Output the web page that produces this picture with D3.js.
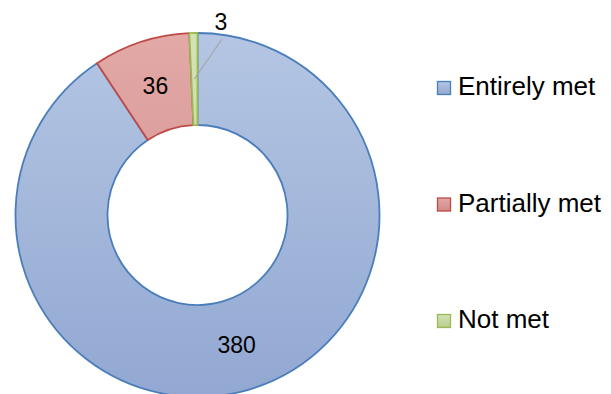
<!DOCTYPE html>
<html><head><meta charset="utf-8">
<script src="https://cdn.jsdelivr.net/npm/d3@7"></script>
<style>body{margin:0;background:#fff;} svg{display:block;font-family:Arial,"Liberation Sans",sans-serif;}</style>
</head><body>
<svg id="c" width="611" height="394"></svg>
<script>
const categories = ["Entirely met", "Partially met", "Not met"];
const values = [380, 36, 3];
const fillTop = ["#b4c6e3", "#e2a9a7", "#d4e3b6"];
const fillBottom = ["#92a8d2", "#d08987", "#b8cd8c"];
const strokes = ["#4a7ebb", "#be4b48", "#98b954"];

const svg = d3.select("#c");
const cx = 197.5, cy = 215, R = 182, r = 90;
const defs = svg.append("defs");
categories.forEach((c, i) => {
  const g = defs.append("linearGradient").attr("id", "g" + i)
    .attr("gradientUnits", "userSpaceOnUse")
    .attr("x1", 0).attr("y1", -R).attr("x2", 0).attr("y2", R);
  g.append("stop").attr("offset", "0%").attr("stop-color", fillTop[i]);
  g.append("stop").attr("offset", "100%").attr("stop-color", fillBottom[i]);
  const lg = defs.append("linearGradient").attr("id", "lg" + i).attr("x1", 0).attr("y1", 0).attr("x2", 0).attr("y2", 1);
  lg.append("stop").attr("offset", "0%").attr("stop-color", fillTop[i]);
  lg.append("stop").attr("offset", "100%").attr("stop-color", fillBottom[i]);
});

const pie = d3.pie().sort(null).value(d => d)(values);
const arc = d3.arc().innerRadius(r).outerRadius(R);
const g = svg.append("g").attr("transform", `translate(${cx},${cy})`);
g.selectAll("path").data(pie).join("path")
  .attr("d", arc)
  .attr("fill", (d, i) => `url(#g${i})`)
  .attr("stroke", (d, i) => strokes[i])
  .attr("stroke-width", 1.8)
  .attr("stroke-linejoin", "round");

const fs = 23;
pie.forEach((d, i) => {
  const [x, y] = arc.centroid(d);
  if (i === 2) {
    const lx = 222 - cx, ly = 39 - cy;
    g.append("line").attr("x1", x).attr("y1", y).attr("x2", lx).attr("y2", ly)
      .attr("stroke", "#a6a6a6").attr("stroke-width", 1.2);
    g.append("text").attr("x", lx - 1).attr("y", 30 - cy)
      .attr("text-anchor", "middle").attr("font-size", fs).attr("fill", "#000")
      .text(values[i]);
  } else {
    g.append("text").attr("x", x).attr("y", y).attr("dy", "0.35em")
      .attr("text-anchor", "middle").attr("font-size", fs).attr("fill", "#000")
      .text(values[i]);
  }
});

const legY = d3.scalePoint().domain(categories).range([86, 319]);
const leg = svg.append("g");
categories.forEach((c, i) => {
  const y = legY(c);
  leg.append("rect").attr("x", 437.5).attr("y", y - 4.5).attr("width", 13).attr("height", 13)
    .attr("fill", `url(#lg${i})`).attr("stroke", strokes[i]).attr("stroke-width", 1.3);
  leg.append("text").attr("x", 458).attr("y", y).attr("dy", "0.35em")
    .attr("font-size", 26).attr("fill", "#000").text(c);
});
</script>
</body></html>
